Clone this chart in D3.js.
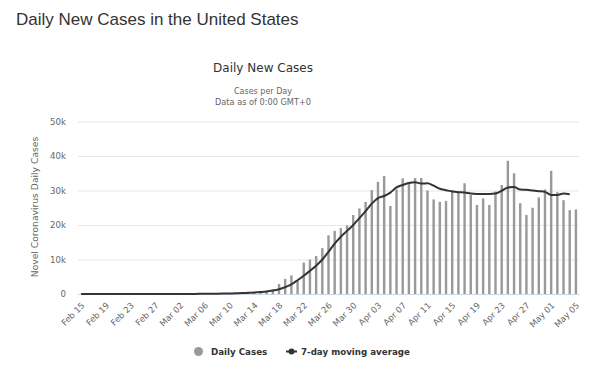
<!DOCTYPE html>
<html><head><meta charset="utf-8">
<script src="https://cdn.jsdelivr.net/npm/d3@7"></script>
<style>body{margin:0;background:#fff}svg{display:block}</style>
</head><body>
<svg id="c" width="600" height="379"></svg>
<script>
const dates = ["Feb 15","Feb 16","Feb 17","Feb 18","Feb 19","Feb 20","Feb 21","Feb 22","Feb 23","Feb 24","Feb 25","Feb 26","Feb 27","Feb 28","Feb 29",
"Mar 01","Mar 02","Mar 03","Mar 04","Mar 05","Mar 06","Mar 07","Mar 08","Mar 09","Mar 10","Mar 11","Mar 12","Mar 13","Mar 14","Mar 15","Mar 16","Mar 17","Mar 18","Mar 19","Mar 20","Mar 21","Mar 22","Mar 23","Mar 24","Mar 25","Mar 26","Mar 27","Mar 28","Mar 29","Mar 30","Mar 31",
"Apr 01","Apr 02","Apr 03","Apr 04","Apr 05","Apr 06","Apr 07","Apr 08","Apr 09","Apr 10","Apr 11","Apr 12","Apr 13","Apr 14","Apr 15","Apr 16","Apr 17","Apr 18","Apr 19","Apr 20","Apr 21","Apr 22","Apr 23","Apr 24","Apr 25","Apr 26","Apr 27","Apr 28","Apr 29","Apr 30",
"May 01","May 02","May 03","May 04","May 05"];

const dailyCases = [0,0,0,0,0,0,2,0,0,0,0,1,0,0,3,
20,25,30,30,70,100,110,120,180,290,330,420,550,600,700,900,1300,2900,4400,5400,3800,9100,10000,11000,13300,17000,18300,19100,19900,22900,24800,
26700,30100,32500,34200,25500,30300,33500,32300,33600,33600,30000,27400,26700,27000,30100,29700,32100,28700,25800,27700,25800,29700,31600,38600,35000,26300,22900,25000,28000,30300,
35700,29500,27200,24300,24500];

const movingAvg = [0,0,0,0,0,0,0,0,0,0,0,0,0,0,0,
10,15,20,30,40,50,70,80,110,150,200,270,350,430,550,700,1000,1400,2000,2800,4000,5300,6700,8200,10000,12200,14600,16600,18300,20000,22000,
24000,26200,27800,28400,29400,30900,31600,32200,32400,32000,32100,31400,30500,30100,29700,29500,29400,29100,29000,29000,29000,29100,29900,30900,31000,30300,30200,30000,29800,29600,
28700,28700,29100,28900,null];

const tickLabels = ["Feb 15","Feb 19","Feb 23","Feb 27","Mar 02","Mar 06","Mar 10","Mar 14","Mar 18","Mar 22","Mar 26","Mar 30","Apr 03","Apr 07","Apr 11","Apr 15","Apr 19","Apr 23","Apr 27","May 01","May 05"];
const yTicks = [0,10000,20000,30000,40000,50000];

const svg = d3.select("#c");
const FONT = "'DejaVu Sans', Verdana, sans-serif";
const plotLeft = 78, plotRight = 579, plotTop = 121.5, plotBottom = 294;

const x = d3.scaleBand().domain(dates).range([plotLeft, plotRight]);
const y = d3.scaleLinear().domain([0, 50000]).range([plotBottom, plotTop]);

// Page title
svg.append("text").attr("x", 16).attr("y", 25)
  .attr("font-family", "'Liberation Sans', Arial, sans-serif").attr("font-size", 17)
  .attr("fill", "#333").text("Daily New Cases in the United States");

// Chart titles
svg.append("text").attr("x", 263).attr("y", 72).attr("text-anchor", "middle")
  .attr("font-family", FONT).attr("font-size", 12).attr("fill", "#333").text("Daily New Cases");
svg.append("text").attr("x", 263).attr("y", 94).attr("text-anchor", "middle")
  .attr("font-family", FONT).attr("font-size", 8).attr("fill", "#666").text("Cases per Day");
svg.append("text").attr("x", 263).attr("y", 104.5).attr("text-anchor", "middle")
  .attr("font-family", FONT).attr("font-size", 8.2).attr("fill", "#666").text("Data as of 0:00 GMT+0");

// Grid + y axis
const yAxis = d3.axisLeft(y).tickValues(yTicks).tickSize(-(plotRight - plotLeft)).tickPadding(12)
  .tickFormat(d => d === 0 ? "0" : (d / 1000) + "k");
const gy = svg.append("g").attr("transform", `translate(${plotLeft},0)`).call(yAxis);
gy.select(".domain").remove();
gy.selectAll(".tick line").attr("stroke", "#e6e6e6");
gy.selectAll(".tick text").attr("font-family", FONT).attr("font-size", 8.6).attr("fill", "#666");

// Y axis title
svg.append("text").attr("transform", "translate(38,207) rotate(-90)").attr("text-anchor", "middle")
  .attr("font-family", FONT).attr("font-size", 9.2).attr("fill", "#666").text("Novel Coronavirus Daily Cases");

// Bars
const bw = 2.4;
svg.append("g").selectAll("rect").data(dailyCases).join("rect")
  .attr("x", (d, i) => x(dates[i]) + x.bandwidth() / 2 - bw / 2)
  .attr("width", bw)
  .attr("y", d => y(d))
  .attr("height", d => plotBottom - y(d))
  .attr("fill", "#999");

// X axis
const xAxis = d3.axisBottom(x).tickValues(tickLabels).tickSize(0).tickPadding(0);
const gx = svg.append("g").attr("transform", `translate(0,${plotBottom})`).call(xAxis);
gx.select(".domain").attr("stroke", "#ccd6eb");
gx.selectAll(".tick text").attr("font-family", FONT).attr("font-size", 8.5).attr("fill", "#666")
  .attr("text-anchor", "end").attr("dy", null).attr("y", 0)
  .attr("transform", "translate(4,12) rotate(-45)");

// Moving average line
const line = d3.line()
  .defined(d => d != null)
  .x((d, i) => x(dates[i]) + x.bandwidth() / 2)
  .y(d => y(d))
  .curve(d3.curveMonotoneX);
svg.append("path").datum(movingAvg).attr("d", line)
  .attr("fill", "none").attr("stroke", "#333").attr("stroke-width", 2);

// Legend
const lg = svg.append("g").attr("font-family", FONT).attr("font-size", 8.7).attr("font-weight", "bold").attr("fill", "#333");
lg.append("circle").attr("cx", 198.5).attr("cy", 351.5).attr("r", 4.5).attr("fill", "#999");
lg.append("text").attr("x", 211).attr("y", 354.7).text("Daily Cases");
lg.append("line").attr("x1", 286).attr("x2", 297).attr("y1", 351.5).attr("y2", 351.5).attr("stroke", "#333").attr("stroke-width", 2);
lg.append("circle").attr("cx", 291.5).attr("cy", 351.5).attr("r", 3).attr("fill", "#333");
lg.append("text").attr("x", 301).attr("y", 354.7).text("7-day moving average");
</script>
</body></html>
